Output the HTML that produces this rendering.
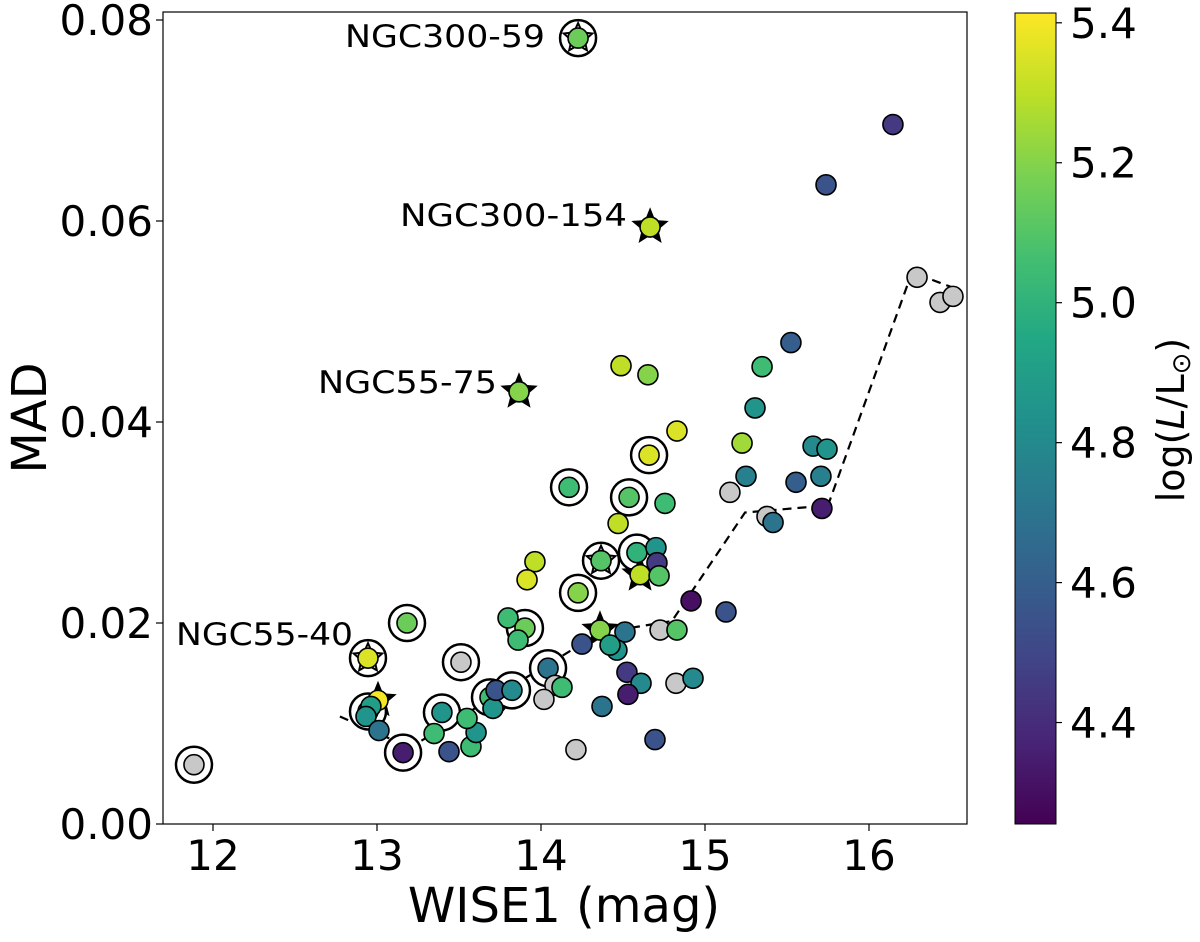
<!DOCTYPE html>
<html>
<head>
<meta charset="utf-8">
<style>
html,body{margin:0;padding:0;background:#fff;}
svg{display:block;font-family:"DejaVu Sans","Liberation Sans",sans-serif;}
</style>
</head>
<body>
<svg id="chart" width="1200" height="942" viewBox="0 0 1200 942" xmlns="http://www.w3.org/2000/svg">
<defs>
<linearGradient id="vir" x1="0" y1="1" x2="0" y2="0">
<stop offset="0" stop-color="#440154"/><stop offset="0.1" stop-color="#482475"/>
<stop offset="0.2" stop-color="#414487"/><stop offset="0.3" stop-color="#355f8d"/>
<stop offset="0.4" stop-color="#2a788e"/><stop offset="0.5" stop-color="#21918c"/>
<stop offset="0.6" stop-color="#22a884"/><stop offset="0.7" stop-color="#44bf70"/>
<stop offset="0.8" stop-color="#7ad151"/><stop offset="0.9" stop-color="#bddf26"/>
<stop offset="1" stop-color="#fde725"/>
</linearGradient>
<clipPath id="clip"><rect x="163" y="12" width="804" height="812"/></clipPath>
</defs>
<g id="marks" clip-path="url(#clip)"></g>
<rect x="163" y="12" width="804" height="812" fill="none" stroke="#000" stroke-width="1.2"/>
<g id="axes"></g>
<text x="564" y="922" font-size="48" text-anchor="middle">WISE1 (mag)</text>
<text transform="translate(46,418) rotate(-90)" font-size="48" text-anchor="middle">MAD</text>
<rect x="1015" y="13" width="41" height="811" fill="url(#vir)" stroke="#000" stroke-width="1"/>
<text transform="translate(1184,420) rotate(-90)" font-size="38" text-anchor="middle">log(<tspan font-style="italic">L</tspan>/L<tspan font-size="26" dy="6">⊙</tspan><tspan dy="-6">)</tspan></text>
<text x="345" y="47" font-size="31" textLength="200" lengthAdjust="spacingAndGlyphs">NGC300-59</text>
<text x="400" y="226" font-size="31" textLength="227" lengthAdjust="spacingAndGlyphs">NGC300-154</text>
<text x="318" y="393" font-size="31" textLength="179" lengthAdjust="spacingAndGlyphs">NGC55-75</text>
<text x="176" y="645" font-size="31" textLength="177" lengthAdjust="spacingAndGlyphs">NGC55-40</text>
</svg>
<script>
// data (mag, MAD, logL, type: c=circle, r=ringed, s=star, rs=ring+star, g=gray, gr=gray ringed)
const mags = [11.884,13.183,12.945,13.512,13.006,12.945,12.963,12.933,13.012,13.159,13.396,13.348,13.439,13.573,13.604,13.549,13.689,13.707,13.726,13.823,14.043,14.085,14.128,14.018,13.799,13.902,13.860,14.250,14.360,14.512,14.463,14.421,14.726,14.829,14.524,14.610,14.530,14.372,14.823,14.927,14.213,14.695,14.915,15.128,13.866,14.488,14.652,14.829,14.659,14.171,14.537,14.756,14.470,13.963,13.915,14.366,14.585,14.701,14.707,14.604,14.720,14.226,14.226,14.665,16.146,15.738,16.293,16.433,16.512,15.524,15.348,15.305,15.226,15.250,15.152,15.378,15.415,15.659,15.744,15.707,15.555,15.713];
const mads = [0.0059,0.0200,0.0165,0.0161,0.0123,0.0112,0.0117,0.0107,0.0093,0.0071,0.0111,0.0090,0.0072,0.0077,0.0091,0.0105,0.0126,0.0115,0.0133,0.0133,0.0155,0.0138,0.0136,0.0124,0.0205,0.0195,0.0183,0.0179,0.0193,0.0191,0.0173,0.0178,0.0193,0.0193,0.0151,0.0140,0.0129,0.0117,0.0140,0.0145,0.0074,0.0084,0.0222,0.0211,0.0430,0.0456,0.0447,0.0391,0.0367,0.0335,0.0325,0.0319,0.0299,0.0261,0.0243,0.0262,0.0270,0.0275,0.0260,0.0248,0.0247,0.0230,0.0782,0.0594,0.0696,0.0636,0.0544,0.0519,0.0525,0.0479,0.0455,0.0414,0.0379,0.0346,0.0330,0.0306,0.0300,0.0376,0.0373,0.0346,0.0340,0.0314];
const lums = [null,5.15,5.35,null,5.4,4.9,4.9,4.85,4.7,4.35,4.85,5.05,4.55,5.05,4.85,5.05,5.05,4.85,4.55,4.8,4.7,null,5.05,null,5.05,5.15,5.05,4.55,5.2,4.7,4.85,4.9,null,5.1,4.45,4.8,4.35,4.7,null,4.8,null,4.55,4.3,4.55,5.2,5.3,5.2,5.35,5.35,5.05,5.1,5.05,5.3,5.3,5.35,5.1,5.0,4.85,4.45,5.3,5.1,5.2,5.15,5.3,4.45,4.55,null,null,null,4.6,5.05,4.85,5.25,4.75,null,null,4.7,4.8,4.85,4.75,4.6,4.35];
const kinds = ["gr","r","rs","gr","s","r","c","c","c","r","r","c","c","c","c","c","r","c","c","r","r","g","c","g","c","r","c","c","s","c","c","c","g","c","c","c","c","c","g","c","g","c","c","c","s","c","c","c","r","r","r","c","c","c","c","rs","r","c","c","s","c","r","rs","s","c","c","g","g","g","c","c","c","c","c","g","g","c","c","c","c","c","c"];
// binned median line
const lineMag = [12.774,13.201,14.360,14.799,15.244,15.750,16.262,16.555];
const lineMad = [0.0107,0.0076,0.0190,0.0202,0.0310,0.0317,0.0549,0.0531];
const xTicks = [12,13,14,15,16];
const yTicks = [0,0.02,0.04,0.06,0.08];
const yTickLabels = ["0.00","0.02","0.04","0.06","0.08"];
const cTicks = [4.4,4.6,4.8,5.0,5.2,5.4];
const cTickLabels = ["4.4","4.6","4.8","5.0","5.2","5.4"];

const NS="http://www.w3.org/2000/svg";
const X = v => 377 + (v-13)*164;
const Y = v => 824 - v*10050;
const CMIN=4.255, CMAX=5.414;
const CY = v => 824 - (v-CMIN)/(CMAX-CMIN)*811;
const stops=["#440154","#482475","#414487","#355f8d","#2a788e","#21918c","#22a884","#44bf70","#7ad151","#bddf26","#fde725"].map(h=>[parseInt(h.substr(1,2),16),parseInt(h.substr(3,2),16),parseInt(h.substr(5,2),16)]);
function vir(v){let t=Math.max(0,Math.min(1,(v-CMIN)/(CMAX-CMIN)))*10;let i=Math.min(9,Math.floor(t)),f=t-i;const a=stops[i],b=stops[i+1];return "rgb("+a.map((c,k)=>Math.round(c+(b[k]-c)*f)).join(",")+")";}
function mk(tag,attrs,parent){const e=document.createElementNS(NS,tag);for(const k in attrs)e.setAttribute(k,attrs[k]);parent.appendChild(e);return e;}
function starPts(cx,cy,R,r){let p=[];for(let i=0;i<10;i++){const a=-Math.PI/2+i*Math.PI/5;const rr=i%2?r:R;p.push((cx+rr*Math.cos(a)).toFixed(1)+","+(cy+rr*Math.sin(a)).toFixed(1));}return p.join(" ");}

const marks=document.getElementById('marks');
let d=lineMag.map((m,i)=>(i?"L":"M")+X(m).toFixed(1)+","+Y(lineMad[i]).toFixed(1)).join(" ");
const ln=mk('path',{d:d,fill:"none",stroke:"#000","stroke-width":2.2,"stroke-dasharray":"9,6"},marks);


for(let i=0;i<mags.length;i++){
  const cx=X(mags[i]),cy=Y(mads[i]),k=kinds[i];
  if(k==="r"||k==="rs"||k==="gr"){
    const ring=mk('circle',{cx:cx,cy:cy,r:18,fill:"#fff",stroke:"#000","stroke-width":2.5},marks);
    
    
  }
  if(k==="s"||k==="rs"){
    const st=mk('polygon',{points:starPts(cx,cy,k==="rs"?15:17,k==="rs"?7:7.5),fill:k==="rs"?"#fff":"#000",stroke:"#000","stroke-width":2},marks);
    
    
  }
}
for(let i=0;i<mags.length;i++){
  const cx=X(mags[i]),cy=Y(mads[i]);
  const fill=lums[i]===null?"#c8c8c8":vir(lums[i]);
  const c=mk('circle',{cx:cx,cy:cy,r:10,fill:fill,stroke:"#000","stroke-width":1.6},marks);
  
  
}
const ax=document.getElementById('axes');
xTicks.forEach(t=>{
  const x=X(t);
  const tk=mk('line',{x1:x,y1:824,x2:x,y2:831,stroke:"#000","stroke-width":1.2},ax);
  
  
  const tx=mk('text',{x:x,y:870,"font-size":42,"text-anchor":"middle"},ax);
  tx.textContent=String(t);
  
  
});
yTicks.forEach((t,i)=>{
  const y=Y(t);
  const tk=mk('line',{x1:156,y1:y,x2:163,y2:y,stroke:"#000","stroke-width":1.2},ax);
  
  
  const tx=mk('text',{x:153,y:y+15,"font-size":42,"text-anchor":"end"},ax);
  tx.textContent=yTickLabels[i];
  
  
});
cTicks.forEach((t,i)=>{
  const y=CY(t);
  const tk=mk('line',{x1:1056,y1:y,x2:1062,y2:y,stroke:"#000","stroke-width":1.2},ax);
  
  
  const tx=mk('text',{x:1070,y:y+15,"font-size":42},ax);
  tx.textContent=cTickLabels[i];
  
  
});
</script>
</body>
</html>
